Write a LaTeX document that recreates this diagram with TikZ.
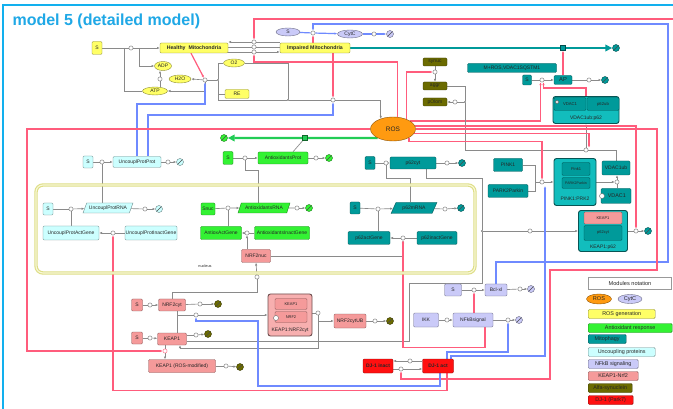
\documentclass[tikz,border=0pt]{standalone}
\usepackage{fontspec}
\setmainfont{Liberation Sans}
\usetikzlibrary{arrows.meta,shapes.geometric}
\pgfdeclarelayer{bg}
\pgfsetlayers{bg,main}
\definecolor{ryel}{HTML}{FFFF66}
\definecolor{rgrn}{HTML}{33F233}
\definecolor{rteal}{HTML}{009A9A}
\definecolor{tealL}{HTML}{12BDBD}
\definecolor{rcyan}{HTML}{CCFFFF}
\definecolor{rlav}{HTML}{CACAF8}
\definecolor{rpink}{HTML}{F59A9A}
\definecolor{rpinkL}{HTML}{F7AFAF}
\definecolor{rolive}{HTML}{6B6B00}
\definecolor{rred}{HTML}{FF1010}
\definecolor{rorange}{HTML}{FF9A10}
\definecolor{lpink}{HTML}{FF5C7C}
\definecolor{lblue}{HTML}{6F8AFF}
\definecolor{lgray}{HTML}{8A8A8A}
\definecolor{ltitle}{HTML}{1FA8E6}
\definecolor{lframe}{HTML}{12B0EE}
\definecolor{gthick}{HTML}{22CC55}
\definecolor{nucO}{HTML}{DEDE86}
\definecolor{nucI}{HTML}{F8F8D8}
\newcommand{\smf}{\fontsize{5}{5.5}\selectfont}
\begin{document}
\begin{tikzpicture}[x=1pt,y=-1pt,
 every node/.style={font=\smf,text=black!85},
 bx/.style={rectangle,rounded corners=1.2pt,draw=#1!55!black,fill=#1,inner sep=0.6pt,line width=0.4pt},
 cx/.style={rectangle,rounded corners=2.5pt,draw=#1!45!black,fill=#1,inner sep=0pt,line width=0.9pt},
 el/.style={ellipse,draw=#1!55!black,fill=#1,inner sep=0pt,line width=0.4pt},
 pg/.style={trapezium,trapezium left angle=60,trapezium right angle=120,trapezium stretches=true,draw=#1!55!black,fill=#1,inner sep=0.6pt,line width=0.4pt},
 proc/.style={circle,draw=black!55,fill=white,minimum size=4.2pt,inner sep=0pt,line width=0.4pt},
 dotn/.style={circle,fill=black!75,minimum size=1.8pt,inner sep=0pt},
 degr/.style={circle,draw=#1!50!black,fill=#1,minimum size=7pt,inner sep=0pt,line width=0.4pt,path picture={\draw[black!70,line width=0.4pt] (path picture bounding box.south west) -- (path picture bounding box.north east);}},
 sq/.style={rectangle,draw=#1!50!black,fill=#1,minimum size=5pt,inner sep=0pt},
 gl/.style={draw=lgray,line width=0.65pt},
 pl/.style={draw=lpink,line width=1.2pt},
 bl/.style={draw=lblue,line width=1.2pt},
 tth/.style={draw=rteal,line width=2.2pt,-{Triangle[length=7pt,width=6.5pt]}},
 gth/.style={draw=gthick,line width=2.2pt,-{Triangle[length=7pt,width=6.5pt]}},
 >={Latex[length=2.8pt,width=2.4pt]}]
\useasboundingbox (0,0) rectangle (673,409);
\begin{pgfonlayer}{bg}
\fill[white] (0,0) rectangle (673,409);
\end{pgfonlayer}
\draw[lframe,line width=2pt] (3,409) -- (3,5) -- (673,5);
\node[anchor=west,font=\fontsize{16}{18}\selectfont\bfseries,text=ltitle] (title) at (9,21) {model 5 (detailed model)};

% ---------- ROS generation (yellow)
\node[bx=ryel,minimum width=10,minimum height=13] (sY) at (97,48) {S};
\node[bx=ryel,minimum width=68,minimum height=10,font=\fontsize{5.2}{6}\selectfont\bfseries] (HM) at (194,48) {Healthy\ \ Mitochondria};
\node[bx=ryel,minimum width=70,minimum height=10,font=\fontsize{5.2}{6}\selectfont\bfseries] (IM) at (315,48) {Impaired Mitochondria};
\node[el=ryel,minimum width=17,minimum height=9] (ADP) at (163,66) {ADP};
\node[el=ryel,minimum width=22,minimum height=8] (H2O) at (180,79) {H2O};
\node[el=ryel,minimum width=25,minimum height=8] (ATP) at (155,91) {ATP};
\node[el=ryel,minimum width=21,minimum height=8] (O2) at (234,63) {O2};
\node[bx=ryel,minimum width=24,minimum height=9] (RE) at (237,94) {RE};
\node[proc] (p1) at (131,48) {};
\node[proc] (pAT) at (160,79) {};
\node[proc] (pOx) at (205,80) {};
\node[dotn] (dOx) at (218,80) {};
\node[dotn] (dRE) at (288,100) {};
\node[proc] (pROS) at (333,100) {};
\node[proc] (pH1) at (254,42) {};
\node[proc] (pH2) at (254,47) {};
\node[proc] (pH3) at (254,52) {};
\node[el=rorange,minimum width=45,minimum height=24,font=\fontsize{6.5}{7}\selectfont] (ROS) at (393,129) {ROS};

% ---------- CytC (lavender)
\node[el=rlav,minimum width=24,minimum height=8] (SL) at (288,32) {S};
\node[proc] (pCyt) at (313,33) {};
\node[el=rlav,minimum width=25,minimum height=8] (CytC) at (350,34) {CytC};
\node[proc] (pCd) at (374,34) {};
\node[degr=rlav] (dCyt) at (390,34) {};

% ---------- Mitophagy (teal, top)
\node[sq=rteal] (sqT) at (563,48) {};
\node[degr=rteal] (dIM) at (616,48) {};
\node[bx=rteal,minimum width=89,minimum height=9] (MROS) at (512,68) {M+ROS,VDAC1SQSTM1};
\node[bx=rteal,minimum width=9,minimum height=10] (Sm) at (527,80) {S};
\node[proc] (pAP) at (542,80) {};
\node[bx=rteal,minimum width=18,minimum height=9,font=\fontsize{5.8}{6}\selectfont] (AP) at (563,80) {AP};
\node[proc] (pAPd) at (589,80) {};
\node[degr=rteal] (dAP) at (605,80) {};
\node[cx=tealL,minimum width=66,minimum height=27] (VP) at (586,110) {};
\node[bx=rteal,minimum width=32,minimum height=13,font=\fontsize{4.2}{5}\selectfont] (VPa) at (570,104) {VDAC1};
\node[bx=rteal,minimum width=32,minimum height=13,font=\fontsize{4.2}{5}\selectfont] (VPb) at (603,104) {p62ub};
\node (VPl) at (586,118) {VDAC1ub:p62};
\node[circle,draw=black!60,fill=white,minimum size=3.5pt,inner sep=0pt] (VPs) at (557,102) {};

% ---------- alpha-synuclein (olive)
\node[bx=rolive,minimum width=24,minimum height=8] (syn) at (435,62) {synuc};
\node[proc] (pSy) at (435,72) {};
\node[bx=rolive,minimum width=24,minimum height=8] (aggr) at (435,86) {aggr};
\node[bx=rolive,minimum width=24,minimum height=8] (pOlom) at (435,102) {pOlom};
\node[proc] (pOl) at (455,102) {};
\node[dotn] (dAg) at (465,102) {};

% ---------- cytosolic proteins
\node[bx=rcyan,minimum width=10,minimum height=12] (Sc) at (88,162) {S};
\node[proc] (pUP1) at (102,162) {};
\node[bx=rcyan,minimum width=48,minimum height=11] (UPP) at (137,162) {UncouplProtProt};
\node[proc] (pUP2) at (168,162) {};
\node[degr=rcyan] (dUP) at (180,162) {};
\node[bx=rgrn,minimum width=10,minimum height=13] (Sg) at (228,158) {S};
\node[proc] (pAO1) at (245,158) {};
\node[bx=rgrn,minimum width=50,minimum height=12] (AOP) at (283,158) {AntioxidantsProt};
\node[proc] (pAO2) at (316,158) {};
\node[degr=rgrn] (dAO) at (329,158) {};
\node[sq=gthick] (sqG) at (305,138) {};
\node[degr=rgrn] (dG) at (224,138) {};
\node[bx=rteal,minimum width=10,minimum height=13] (St) at (370,163) {S};
\node[proc] (pPC1) at (386,163) {};
\node[bx=rteal,minimum width=46,minimum height=12] (p62c) at (413,163) {p62cyt};
\node[proc] (pPC2) at (447,163) {};
\node[degr=rteal] (dPC) at (462,163) {};

% ---------- nucleus
\draw[nucO,line width=3.4pt,rounded corners=7pt] (36,185) rectangle (475,273);
\draw[nucI,line width=1.1pt,rounded corners=7pt] (36,185) rectangle (475,273);
\node[font=\fontsize{3.8}{4}\selectfont] (nucl) at (205,266) {nucleus};
\node[bx=rcyan,minimum width=10,minimum height=12] (Snc) at (48,209) {S};
\node[proc] (pUR1) at (71,209) {};
\node[pg=rcyan,minimum width=50,minimum height=10] (UPR) at (108,208) {UncouplProtRNA};
\node[proc] (pUR2) at (145,209) {};
\node[degr=rcyan] (dUR) at (159,209) {};
\node[bx=rcyan,minimum width=56,minimum height=14] (UPAG) at (71,233) {UncouplProtActGene};
\node[proc] (pUG) at (113,233) {};
\node[bx=rcyan,minimum width=52,minimum height=14] (UPIG) at (151,233) {UncouplProtInactGene};
\node[bx=rgrn,minimum width=14,minimum height=12] (Snuc) at (208,209) {Snuc};
\node[proc] (pAR1) at (228,208) {};
\node[pg=rgrn,minimum width=52,minimum height=10] (AOR) at (264,208) {AntioxidantsRNA};
\node[proc] (pAR2) at (297,208) {};
\node[degr=rgrn] (dAR) at (309,208) {};
\node[bx=rgrn,minimum width=41,minimum height=13] (AOAG) at (221,233) {AntioxActGene};
\node[proc] (pAG) at (247,233) {};
\node[bx=rgrn,minimum width=55,minimum height=13] (AOIG) at (282,233) {AntioxidantsInactGene};
\node[bx=rpink,minimum width=29,minimum height=13] (NRF2nuc) at (256,256) {NRF2nuc};
\node[bx=rteal,minimum width=10,minimum height=12] (Stn) at (355,208) {S};
\node[proc] (pPR1) at (378,209) {};
\node[pg=rteal,minimum width=46,minimum height=11] (p62R) at (414,208) {p62mRNA};
\node[proc] (pPR2) at (445,209) {};
\node[degr=rteal] (dPR) at (461,208) {};
\node[bx=rteal,minimum width=42,minimum height=13] (p62AG) at (369,238) {p62actGene};
\node[proc] (pPG) at (403,238) {};
\node[bx=rteal,minimum width=40,minimum height=13] (p62IG) at (437,238) {p62inactGene};

% ---------- PINK1 / Parkin / KEAP1:p62
\node[bx=rteal,minimum width=29,minimum height=13] (PINK1) at (508,165) {PINK1};
\node[bx=rteal,minimum width=40,minimum height=13] (PARK2) at (508,191) {PARK2Parkin};
\node[proc] (pPP) at (542,182) {};
\node[cx=tealL,minimum width=42,minimum height=47] (PP) at (575,182) {};
\node[bx=rteal,minimum width=28,minimum height=13,font=\fontsize{4}{4.5}\selectfont] (PPa) at (576,169) {Pink1};
\node[bx=rteal,minimum width=28,minimum height=11,font=\fontsize{3.6}{4}\selectfont] (PPb) at (576,183) {PARK2Parkin};
\node (PPl) at (575,199) {PINK1:PRK2};
\node[bx=rteal,minimum width=28,minimum height=14] (VDAC1ub) at (616,168) {VDAC1ub};
\node[bx=rteal,minimum width=30,minimum height=15,font=\fontsize{5.4}{6}\selectfont] (VDAC1) at (616,196) {\ VDAC1};
\node[circle,draw=black!60,fill=white,minimum size=5pt,inner sep=0pt] (VDs) at (602,196) {};
\node[proc] (pV) at (617,182) {};
\node[proc] (pVP) at (586,150) {};
\node[cx=tealL,minimum width=49,minimum height=41] (KP) at (603,231) {};
\node[bx=rpink,minimum width=38,minimum height=12,font=\fontsize{4}{4.5}\selectfont] (KPa) at (603,218) {KEAP1};
\node[bx=rteal,minimum width=38,minimum height=15,font=\fontsize{4}{4.5}\selectfont] (KPb) at (603,233) {p62cyt};
\node (KPl) at (603,247) {KEAP1:p62};
\node[dotn] (dKP) at (482,231) {};
\node[proc] (pKP) at (530,231) {};
\node[proc] (pKPd) at (636,231) {};
\node[degr=rteal] (dKPd) at (648,231) {};

% ---------- KEAP1-Nrf2 (pink)
\node[bx=rpink,minimum width=11,minimum height=12] (Sp1) at (137,305) {S};
\node[proc] (pN1) at (150,305) {};
\node[bx=rpink,minimum width=27,minimum height=12] (NRF2c) at (172,305) {NRF2cyt};
\node[proc] (pN2) at (200,304) {};
\node[degr=rolive] (dN) at (218,304) {};
\node[bx=rpink,minimum width=11,minimum height=12] (Sp2) at (137,338) {S};
\node[proc] (pK1) at (150,338) {};
\node[bx=rpink,minimum width=29,minimum height=12] (KEAP1) at (172,339) {KEAP1};
\node[proc] (pK2) at (196,335) {};
\node[degr=rolive] (dK) at (208,334) {};
\node[proc,draw=lpink] (pKR) at (165,351) {};
\node[bx=rpink,minimum width=67,minimum height=13] (KRM) at (182,366) {KEAP1 (ROS-modified)};
\node[proc] (pKR2) at (226,366) {};
\node[degr=rolive] (dKR) at (240,367) {};
\node[proc] (pKN) at (196,315) {};
\node[proc] (pNT) at (257,277) {};
\node[cx=rpinkL,minimum width=44,minimum height=42] (KN) at (290,315) {};
\node[bx=rpink,minimum width=32,minimum height=11,font=\fontsize{4}{4.5}\selectfont] (KNa) at (291,304) {KEAP1};
\node[bx=rpink,minimum width=32,minimum height=11,font=\fontsize{4}{4.5}\selectfont] (KNb) at (291,317) {NRF2};
\node[circle,draw=black!60,fill=white,minimum size=5pt,inner sep=0pt] (KNs) at (276,318) {};
\node (KNl) at (290,330) {KEAP1:NRF2cyt};
\node[proc] (pKN2) at (318,313) {};
\node[bx=rpink,minimum width=32,minimum height=14] (NRF2UB) at (350,321) {NRF2cytUB};
\node[proc] (pNU) at (375,321) {};
\node[degr=rolive] (dNU) at (390,321) {};

% ---------- NFkB (lavender)
\node[bx=rlav,minimum width=17,minimum height=12] (Sl) at (453,290) {S};
\node[proc] (pBcl) at (474,290) {};
\node[bx=rlav,minimum width=22,minimum height=12] (Bcl) at (496,290) {Bcl-xl};
\node[proc] (pBd) at (520,289) {};
\node[degr=rlav] (dBcl) at (531,289) {};
\node[bx=rlav,minimum width=25,minimum height=14] (IKK) at (426,320) {IKK};
\node[proc] (pNF) at (447,320) {};
\node[bx=rlav,minimum width=40,minimum height=14] (NFkB) at (473,320) {NFkBsignal};
\node[proc] (pNd) at (508,320) {};
\node[degr=rlav] (dNF) at (519,320) {};

% ---------- DJ-1 (red)
\node[bx=rred,minimum width=30,minimum height=14,font=\fontsize{5}{5.5}\selectfont\bfseries] (DJ1i) at (378,366) {DJ-1 inact};
\node[bx=rred,minimum width=31,minimum height=14,font=\fontsize{5}{5.5}\selectfont\bfseries] (DJ1a) at (438,366) {DJ-1 act};
\node[proc] (pDJ) at (401,369) {};
\node[proc] (pDJ2) at (410,361) {};

% ---------- legend
\node[draw=black!40,fill=white,minimum width=83,minimum height=12,font=\fontsize{5.6}{6}\selectfont] (Lh) at (630,283) {Modules notation};
\node[el=rorange,minimum width=25,minimum height=10,font=\fontsize{5.6}{6}\selectfont] (Lros) at (599,299) {ROS};
\node[el=rlav,minimum width=24,minimum height=9,font=\fontsize{5.6}{6}\selectfont] (Lcyt) at (630,299) {CytC};
\begin{scope}[every node/.append style={anchor=west,minimum height=9,font=\fontsize{5.4}{6}\selectfont}]
\node[bx=ryel,minimum width=67] (L1) at (588,314) {ROS generation};
\node[bx=rgrn,minimum width=84] (L2) at (588,328) {Antioxidant response};
\node[bx=rteal,minimum width=38] (L3) at (588,339) {Mitophagy};
\node[bx=rcyan,minimum width=67] (L4) at (588,352) {Uncoupling proteins};
\node[bx=rlav,minimum width=50] (L5) at (588,364) {NFkB signaling};
\node[bx=rpink,minimum width=50] (L6) at (588,376) {KEAP1-Nrf2};
\node[bx=rolive,minimum width=44] (L7) at (588,388) {Alfa-synuclein};
\node[bx=rred,minimum width=45] (L8) at (588,400) {DJ-1 (Park7)};
\end{scope}

% ================= connectors
\begin{pgfonlayer}{bg}
% yellow
\draw[gl] (sY) -- (p1);
\draw[gl,->] (p1) -- (HM);
\draw[gl] (124,48) |- (ATP);
\draw[gl,->] (139,48) |- (ADP);
\draw[gl] (pAT |- ATP.north) -- (pAT);
\draw[gl,->] (pAT) -- (pAT |- ADP.south);
\draw[gl,<-] (ATP.east) -| (pOx);
\draw[gl,->] (pOx) -- (H2O.east);
\draw[gl] (pOx) -- (dOx);
\draw[gl] (dOx) |- (O2.west);
\draw[gl] (dOx) |- (RE.west);
\draw[gl] (dOx) |- (dRE);
\draw[gl] (O2.east) -| (dRE);
\draw[gl] (dRE) -- (pROS);
\draw[gl,->] (pROS) -| (ROS.140);
\draw[pl,->] ([xshift=-3pt]HM.south) -- (pOx);
\draw[pl,->] (IM.south -| pROS) -- (pROS);
\draw[pl,<-] (pH1) -- (254,19) -- (673,19);
\draw[pl,->] (ROS.68) |- (pH3 |- 0,62) -- (pH3);
\draw[gl,->] (pH1) -- (HM.east |- pH1);
\draw[gl] (IM.west |- pH1) -- (pH1);
\draw[gl] (HM.east |- pH2) -- (pH2) -- (IM.west |- pH2);
\draw[gl] (HM.east |- pH3) -- (pH3);
\draw[gl,->] (pH3) -- (IM.west |- pH3);
% CytC
\draw[bl] (SL) -- (pCyt);
\draw[bl,->] (pCyt) -- (CytC);
\draw[bl] (CytC) -- (pCd);
\draw[bl,->] (pCd) -- (dCyt);
\draw[pl,->] (IM.north -| pCyt) -- (pCyt);
\draw[bl,->] (Bcl.north) |- (668,262) -- (668,24) -| (pCyt);
% mitophagy top
\draw[tth] (IM.east) -- (dIM);
\draw[pl,->] (AP) -- (sqT);
\draw[gl] (Sm) -- (pAP);
\draw[gl,->] (pAP) -- (AP);
\draw[gl] (AP) -- (pAPd);
\draw[gl,->] (pAPd) -- (dAP);
\draw[pl,->] (VP.north) -- ++(0,-8) -| ([xshift=1.5pt]pAP.south);
\draw[pl,->] (ROS.25) -| ([xshift=-1.5pt]pAP.south);
% synuclein
\draw[gl] (syn) -- (pSy);
\draw[gl,->] (pSy) -- (aggr);
\draw[pl,->] (ROS.35) |- (pSy);
\draw[gl] (aggr.east) -| (dAg);
\draw[gl] (dAg) -- (pOl);
\draw[gl,->] (pOl) -- (pOlom);
\draw[gl] (dAg) |- (pVP);
\draw[gl] (VDAC1ub.north) |- (pVP);
\draw[gl,->] (pVP) -- (VP);
\draw[pl,->] (ROS.-12) -| ([xshift=3pt]pVP.north);
% KEAP1:p62
\draw[pl,->] (ROS.8) -| (pKPd);
\draw[gl] ([xshift=13pt]p62c.south) |- (dKP |- 0,178) -- (dKP);
\draw[gl] (dKP) -- (pKP);
\draw[gl,->] (pKP) -- (KP);
\draw[gl] (KP) -- (pKPd);
\draw[gl,->] (pKPd) -- (dKPd);
% PINK1 / parkin
\draw[pl,->] (ROS.south east) -- ++(0,4) -| (pPP);
\draw[gl] (PINK1.east) -| (535,182) -- (pPP);
\draw[gl] (PARK2.east) -| (535,182);
\draw[gl,->] (pPP) -- (PP);
\draw[gl] (VDAC1.north -| pV) -- (pV);
\draw[gl,->] (pV) -- (VDAC1ub.south -| pV);
\draw[gl,->] (PP.east |- pV) -- (pV);
% uncoupling proteins
\draw[bl,->] (UPP.north) |- (pOx |- 0,104) -- (pOx);
\draw[bl,->] ([xshift=11pt]UPP.north) |- (pROS |- 0,115) -- (pROS);
% antioxidants
\draw[gth] (ROS.210) -- (dG);
\draw[gl] ([xshift=10pt]AOP.north) -- (sqG);
% translation
\draw[gl] (Sc) -- (pUP1);
\draw[gl,->] (pUP1) -- (UPP);
\draw[gl] (UPP) -- (pUP2);
\draw[gl,->] (pUP2) -- (dUP);
\draw[gl] (UPR.north -| pUP1) -- (pUP1);
\draw[gl] (Sg) -- (pAO1);
\draw[gl,->] (pAO1) -- (AOP);
\draw[gl] (AOP) -- (pAO2);
\draw[gl,->] (pAO2) -- (dAO);
\draw[gl] ([xshift=-6pt]AOR.north) -- ++(0,-32) -| (pAO1);
\draw[gl] (St) -- (pPC1);
\draw[gl,->] (pPC1) -- (p62c);
\draw[gl] (p62c) -- (pPC2);
\draw[gl,->] (pPC2) -- (dPC);
\draw[gl] ([xshift=-4pt]p62R.north) -- ++(0,-24) -| (pPC1);
% transcription
\draw[gl] (Snc) -- (pUR1);
\draw[gl,->] (pUR1) -- (UPR);
\draw[gl] (UPR) -- (pUR2);
\draw[gl,->] (pUR2) -- (dUR);
\draw[gl] (UPAG.north -| pUR1) -- (pUR1);
\draw[gl] (UPIG) -- (pUG);
\draw[gl,->] (pUG) -- (UPAG);
\draw[gl] (Snuc) -- (pAR1);
\draw[gl,->] (pAR1) -- (AOR);
\draw[gl] (AOR) -- (pAR2);
\draw[gl,->] (pAR2) -- (dAR);
\draw[gl] (AOAG.north -| pAR1) -- (pAR1);
\draw[gl] (AOIG) -- (pAG);
\draw[gl,->] (pAG) -- (AOAG);
\draw[gl] (Stn) -- (pPR1);
\draw[gl,->] (pPR1) -- (p62R);
\draw[gl] (p62R) -- (pPR2);
\draw[gl,->] (pPR2) -- (dPR);
\draw[gl] (p62AG.north -| pPR1) -- (pPR1);
\draw[gl] (p62IG) -- (pPG);
\draw[gl,->] (pPG) -- (p62AG);
\draw[gl,->] (NRF2nuc.north -| pAG) -- (pAG);
\draw[gl,->] (NRF2nuc.east) -| (pPG);
% KEAP1-Nrf2
\draw[gl] (Sp1) -- (pN1);
\draw[gl,->] (pN1) -- (NRF2c);
\draw[gl] (NRF2c) -- (pN2);
\draw[gl,->] (pN2) -- (dN);
\draw[gl] (Sp2) -- (pK1);
\draw[gl,->] (pK1) -- (KEAP1);
\draw[gl] (KEAP1.east |- pK2) -- (pK2);
\draw[gl,->] (pK2) -- (dK);
\draw[gl] (KEAP1.south -| pKR) -- (pKR);
\draw[gl,->] (pKR) -- (KRM.north -| pKR);
\draw[gl] (KRM) -- (pKR2);
\draw[gl,->] (pKR2) -- (dKR);
\draw[gl] ([xshift=5pt]NRF2c.south) |- (pKN);
\draw[gl] ([xshift=5pt]KEAP1.north) |- (pKN);
\draw[gl,->] (pKN) -- (KN.west |- pKN);
\draw[gl] (NRF2c.north) -- ++(0,-6) -| (pNT);
\draw[gl,->] (pNT) -- (NRF2nuc.south);
\draw[gl] (KN.east |- pKN2) -- (pKN2);
\draw[gl,->] (pKN2) |- (NRF2UB.west);
\draw[gl,->] (pKN2) -- (318,348) -| ([xshift=8pt]KEAP1.south);
\draw[gl] (NRF2UB) -- (pNU);
\draw[gl,->] (pNU) -- (dNU);
\draw[gl] ([yshift=-2pt]KEAP1.east) -| (409,283) -| (dKP);
\draw[pl,->] (ROS.west) -- (27,129) -- (27,351) -- (pKR);
% NFkB
\draw[gl] (Sl) -- (pBcl);
\draw[gl,->] (pBcl) -- (Bcl);
\draw[gl] (Bcl) -- (pBd);
\draw[gl,->] (pBd) -- (dBcl);
\draw[gl] (IKK) -- (pNF);
\draw[gl,->] (pNF) -- (NFkB);
\draw[gl] (NFkB) -- (pNd);
\draw[gl,->] (pNd) -- (dNF);
\draw[pl,->] (NFkB.north -| pBcl) -- (pBcl);
\draw[pl,->] ([xshift=12pt]NFkB.south) -- ++(0,20) -| (pPG);
% DJ-1
\draw[gl] (DJ1i.east |- pDJ) -- (pDJ);
\draw[gl,->] (pDJ) -- (DJ1a.west |- pDJ);
\draw[gl] (DJ1a.west |- pDJ2) -- (pDJ2);
\draw[gl,->] (pDJ2) -- (DJ1i.east |- pDJ2);
\draw[pl,->] (ROS.east) -- (657,129) -- (657,270) -| (550,379) -| (pDJ);
\draw[pl,->] ([xshift=9pt]DJ1a.south) -- ++(0,17) -| (pUG);
\draw[bl,->] ([xshift=2pt]DJ1a.south) |- (258,386) -- (258,321) -| (pKN);
\draw[bl,->] ([xshift=9pt]DJ1a.north) |- (pNd |- 0,352) -- (pNd);
\draw[bl,->] ([xshift=13pt]DJ1a.north) |- (545,356) -- (545,186);
\end{pgfonlayer}
\end{tikzpicture}
\end{document}
